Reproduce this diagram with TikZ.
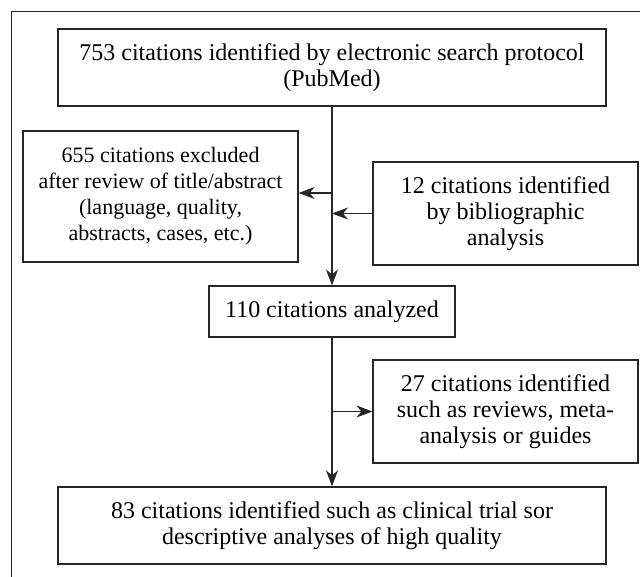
\documentclass[tikz,border=0pt]{standalone}
\usepackage{fontspec}
\setmainfont{Liberation Serif}
\usetikzlibrary{arrows.meta}
\definecolor{ink}{HTML}{262626}
\begin{document}
\begin{tikzpicture}[x=1pt,y=-1pt,
  box/.style={draw=ink, line width=1.2pt, align=center, inner sep=0pt, text=black,
    font=\fontsize{24}{26}\selectfont},
  arr/.style={draw=ink, line width=1.2pt, -{Stealth[length=16pt,width=12pt,inset=5pt]}},
  ln/.style={draw=ink, line width=1.2pt}]
\useasboundingbox (0,0) rectangle (640,577);
\coordinate (fa) at (11.5,577);
\coordinate (fb) at (11.5,11.5);
\coordinate (fc) at (640,11.5);
\draw[ln] (fa) -- (fb) -- (fc);
\node[box, minimum width=548pt, minimum height=77pt] (src) at (332,67.5)
  {753 citations identified by electronic search protocol\\(PubMed)};
\node[box, minimum width=275pt, minimum height=131pt, font=\fontsize{22}{26}\selectfont] (excl) at (160.5,196.5)
  {655 citations excluded\\after review of title/abstract\\(language, quality,\\abstracts, cases, etc.)};
\node[box, minimum width=265pt, minimum height=103pt] (bib) at (505.5,213.5)
  {12 citations identified\\by bibliographic\\analysis};
\node[box, minimum width=246pt, minimum height=51pt] (ana) at (332,311.5)
  {110 citations analyzed};
\node[box, minimum width=265pt, minimum height=103pt] (meta) at (505.5,411.5)
  {27 citations identified\\such as reviews, meta-\\analysis or guides};
\node[box, minimum width=548pt, minimum height=77pt] (final) at (332,525.5)
  {83 citations identified such as clinical trial sor\\descriptive analyses of high quality};
\coordinate (j1) at (332,193);
\draw[arr] (src.south) -- (ana.north);
\draw[arr] (j1) -- (j1 -| excl.east);
\draw[arr] (bib.west) -- (bib.west -| src.south);
\draw[arr] (ana.south) -- (final.north);
\draw[arr] (meta.west -| ana.south) -- (meta.west);
\end{tikzpicture}
\end{document}
